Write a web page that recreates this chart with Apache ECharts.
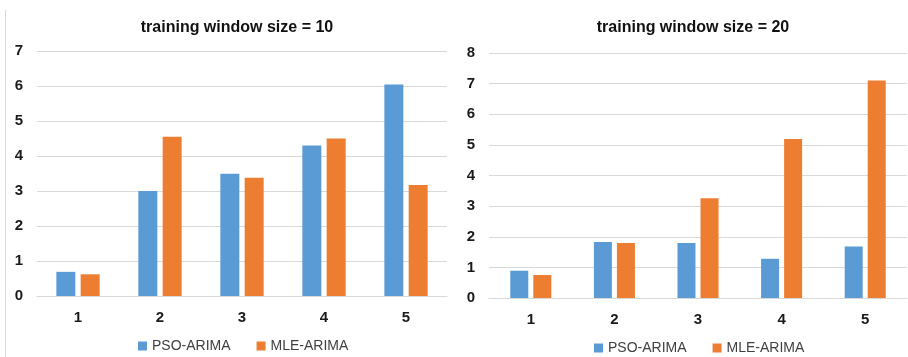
<!DOCTYPE html>
<html>
<head>
<meta charset="utf-8">
<script src="https://cdn.jsdelivr.net/npm/echarts@6/dist/echarts.min.js"></script>
<style>
  html, body { margin: 0; padding: 0; background: #fff; }
  #chart { width: 908px; height: 357px; }
</style>
</head>
<body>
<div id="chart"></div>
<script>
// Forecast error per test case for two training window sizes
const categories = ['1', '2', '3', '4', '5'];
const seriesNames = ['PSO-ARIMA', 'MLE-ARIMA'];
const titles = ['training window size = 10', 'training window size = 20'];

const psoWin10 = [0.69, 3.00, 3.49, 4.30, 6.04];
const mleWin10 = [0.62, 4.55, 3.38, 4.50, 3.17];
const psoWin20 = [0.89, 1.83, 1.80, 1.28, 1.68];
const mleWin20 = [0.75, 1.80, 3.26, 5.19, 7.10];

const yMax = [7, 8];

const FONT = "'Liberation Sans', Arial, sans-serif";
const BLUE = '#5B9BD5';
const ORANGE = '#ED7D31';
const GRID = '#D9D9D9';

const chart = echarts.init(document.getElementById('chart'), null, { renderer: 'canvas' });

function xAxis(i) {
  return {
    type: 'category', gridIndex: i, data: categories,
    axisLine: { lineStyle: { color: GRID, width: 1 } },
    axisTick: { show: false },
    axisLabel: { color: '#1a1a1a', fontFamily: FONT, fontSize: 15, fontWeight: 'bold', margin: 14 }
  };
}
function yAxis(i) {
  return {
    type: 'value', gridIndex: i, min: 0, max: yMax[i], interval: 1,
    axisLine: { show: false }, axisTick: { show: false },
    splitLine: { lineStyle: { color: GRID, width: 1 } },
    axisLabel: { color: '#1a1a1a', fontFamily: FONT, fontSize: 15, fontWeight: 'bold', margin: 14 }
  };
}
function bar(name, data, color, i, width) {
  return {
    name: name, type: 'bar', xAxisIndex: i, yAxisIndex: i, data: data,
    barWidth: width, barGap: '28%',
    itemStyle: { color: color }, animation: false
  };
}
function legend(i, left, top) {
  return {
    data: seriesNames.map(n => ({ name: n })),
    left: left, top: top, itemWidth: 9, itemHeight: 9, itemGap: 26,
    icon: 'rect', selectedMode: false,
    textStyle: { color: '#404040', fontFamily: FONT, fontSize: 14 }
  };
}

chart.setOption({
  backgroundColor: '#fff',
  animation: false,
  title: [
    { text: titles[0], left: 232, top: 15, textAlign: 'center',
      textStyle: { fontFamily: FONT, fontSize: 16, fontWeight: 'bold', color: '#111' } },
    { text: titles[1], left: 688, top: 15, textAlign: 'center',
      textStyle: { fontFamily: FONT, fontSize: 16, fontWeight: 'bold', color: '#111' } }
  ],
  legend: [legend(0, 133, 334), legend(1, 589, 336)],
  grid: [
    { left: 37, right: 461, top: 51, bottom: 61 },
    { left: 489, right: 1, top: 53, bottom: 59 }
  ],
  xAxis: [xAxis(0), xAxis(1)],
  yAxis: [yAxis(0), yAxis(1)],
  series: [
    bar(seriesNames[0], psoWin10, BLUE, 0, 19),
    bar(seriesNames[1], mleWin10, ORANGE, 0, 19),
    bar(seriesNames[0], psoWin20, BLUE, 1, 18),
    bar(seriesNames[1], mleWin20, ORANGE, 1, 18)
  ],
  graphic: [
    { type: 'line', shape: { x1: 5.5, y1: 10, x2: 5.5, y2: 357 },
      style: { stroke: GRID, lineWidth: 1 }, silent: true }
  ]
});
</script>
</body>
</html>
